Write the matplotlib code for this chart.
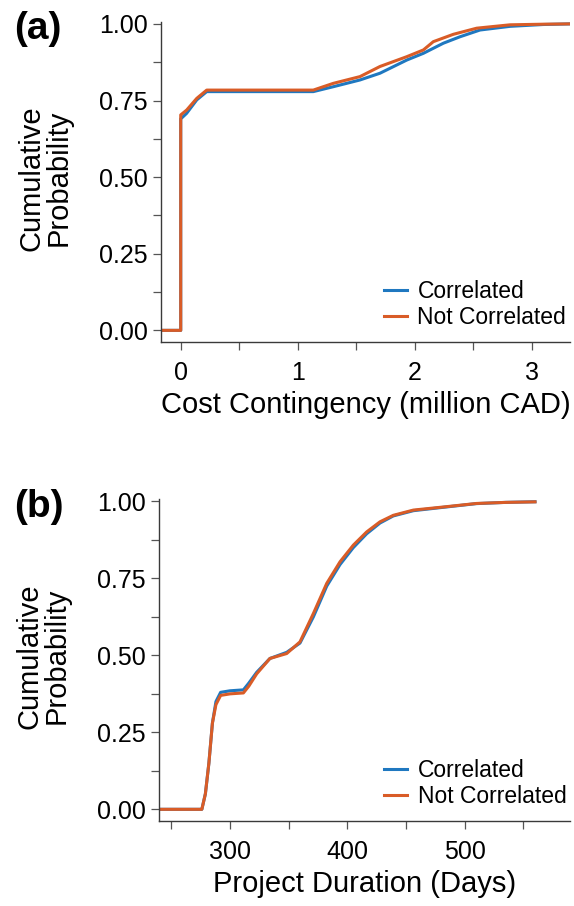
import matplotlib
matplotlib.use("Agg")
import matplotlib.pyplot as plt
from matplotlib.ticker import MultipleLocator

plt.rcParams['font.family'] = ['Liberation Sans', 'DejaVu Sans']

# ---- data: panel (a) cost contingency (million CAD) ----
a_x_corr = [-0.171, 0, 0, 0.05, 0.137, 0.222, 1.133, 1.304, 1.532, 1.703, 1.932,
            2.074, 2.245, 2.387, 2.558, 2.815, 3.1, 3.327]
a_y_corr = [0, 0, 0.69, 0.708, 0.752, 0.779, 0.779, 0.795, 0.817, 0.839, 0.882,
            0.904, 0.937, 0.958, 0.980, 0.992, 0.998, 1.0]
a_x_nc = [-0.171, 0, 0, 0.051, 0.137, 0.222, 1.133, 1.304, 1.532, 1.703, 1.932,
          2.074, 2.159, 2.330, 2.530, 2.815, 3.1, 3.327]
a_y_nc = [0, 0, 0.703, 0.719, 0.757, 0.784, 0.784, 0.806, 0.828, 0.861, 0.893,
          0.915, 0.942, 0.966, 0.986, 0.997, 0.999, 1.0]

# ---- data: panel (b) project duration (days) ----
b_x = [239.5, 276, 279, 282, 285, 288, 292, 300, 311.4, 316, 322.7, 334, 348.3,
       359.6, 371, 382.4, 393.7, 405, 416.4, 427.8, 439.1, 456.2, 481.7, 510, 535, 559.8]
b_y_corr = [0, 0, 0.05, 0.15, 0.28, 0.35, 0.38, 0.385, 0.388, 0.41, 0.445, 0.49, 0.51,
            0.54, 0.625, 0.725, 0.795, 0.85, 0.895, 0.93, 0.953, 0.97, 0.981, 0.993, 0.997, 0.999]
b_y_nc = [0, 0, 0.05, 0.15, 0.28, 0.34, 0.37, 0.375, 0.378, 0.40, 0.44, 0.49, 0.506,
          0.544, 0.636, 0.734, 0.804, 0.858, 0.901, 0.934, 0.955, 0.972, 0.982, 0.9935, 0.997, 0.9987]

series_labels = ["Correlated", "Not Correlated"]
y_ticks = [0.00, 0.25, 0.50, 0.75, 1.00]
y_ticklabels = ["0.00", "0.25", "0.50", "0.75", "1.00"]
a_xticks = [0, 1, 2, 3]
b_xticks = [300, 400, 500]

BLUE = "#1f78c0"
ORANGE = "#d95c27"
SPINE = "#3a3a3a"

fig = plt.figure(figsize=(5.74, 9.06), dpi=100)
ax_a = fig.add_axes([0.280, 0.6225, 0.713, 0.3535])
ax_b = fig.add_axes([0.277, 0.0938, 0.716, 0.3551])


def style(ax, xlabel, xmajor, xminor, xlim):
    ax.set_ylim(-0.038, 1.007)
    ax.set_xlim(*xlim)
    ax.set_yticks(y_ticks)
    ax.set_yticklabels(y_ticklabels)
    ax.yaxis.set_minor_locator(MultipleLocator(0.125))
    ax.set_xticks(xmajor)
    ax.xaxis.set_minor_locator(MultipleLocator(xminor))
    for s in ["top", "right"]:
        ax.spines[s].set_visible(False)
    for s in ["left", "bottom"]:
        ax.spines[s].set_color(SPINE)
        ax.spines[s].set_linewidth(1.0)
    ax.tick_params(which="both", direction="out", length=5.5, width=0.9,
                   color="#555555", labelsize=18, labelcolor="black")
    ax.tick_params(axis="y", pad=4)
    ax.tick_params(axis="x", pad=8.5)
    ax.set_xlabel(xlabel, fontsize=21, labelpad=4)
    ax.set_ylabel("Cumulative\nProbability", fontsize=21, linespacing=0.95)
    ax.yaxis.set_label_coords(-0.215, 0.512)
    ax.legend(loc="lower right", bbox_to_anchor=(1.03, -0.008), frameon=False,
              fontsize=16.5, handlelength=1.0, handletextpad=0.45,
              labelspacing=0.1, borderpad=0.2)


ax_a.plot(a_x_corr, a_y_corr, color=BLUE, lw=2.2, label=series_labels[0])
ax_a.plot(a_x_nc, a_y_nc, color=ORANGE, lw=2.2, label=series_labels[1])
style(ax_a, "Cost Contingency (million CAD)", a_xticks, 0.5, (-0.171, 3.327))

ax_b.plot(b_x, b_y_corr, color=BLUE, lw=2.2, label=series_labels[0])
ax_b.plot(b_x, b_y_nc, color=ORANGE, lw=2.2, label=series_labels[1])
style(ax_b, "Project Duration (Days)", b_xticks, 50, (239.5, 589.6))

fig.text(0.024, 0.968, "(a)", fontsize=28, fontweight="bold", ha="left", va="center")
fig.text(0.024, 0.4407, "(b)", fontsize=28, fontweight="bold", ha="left", va="center")

fig.savefig("out.png", dpi=100)
